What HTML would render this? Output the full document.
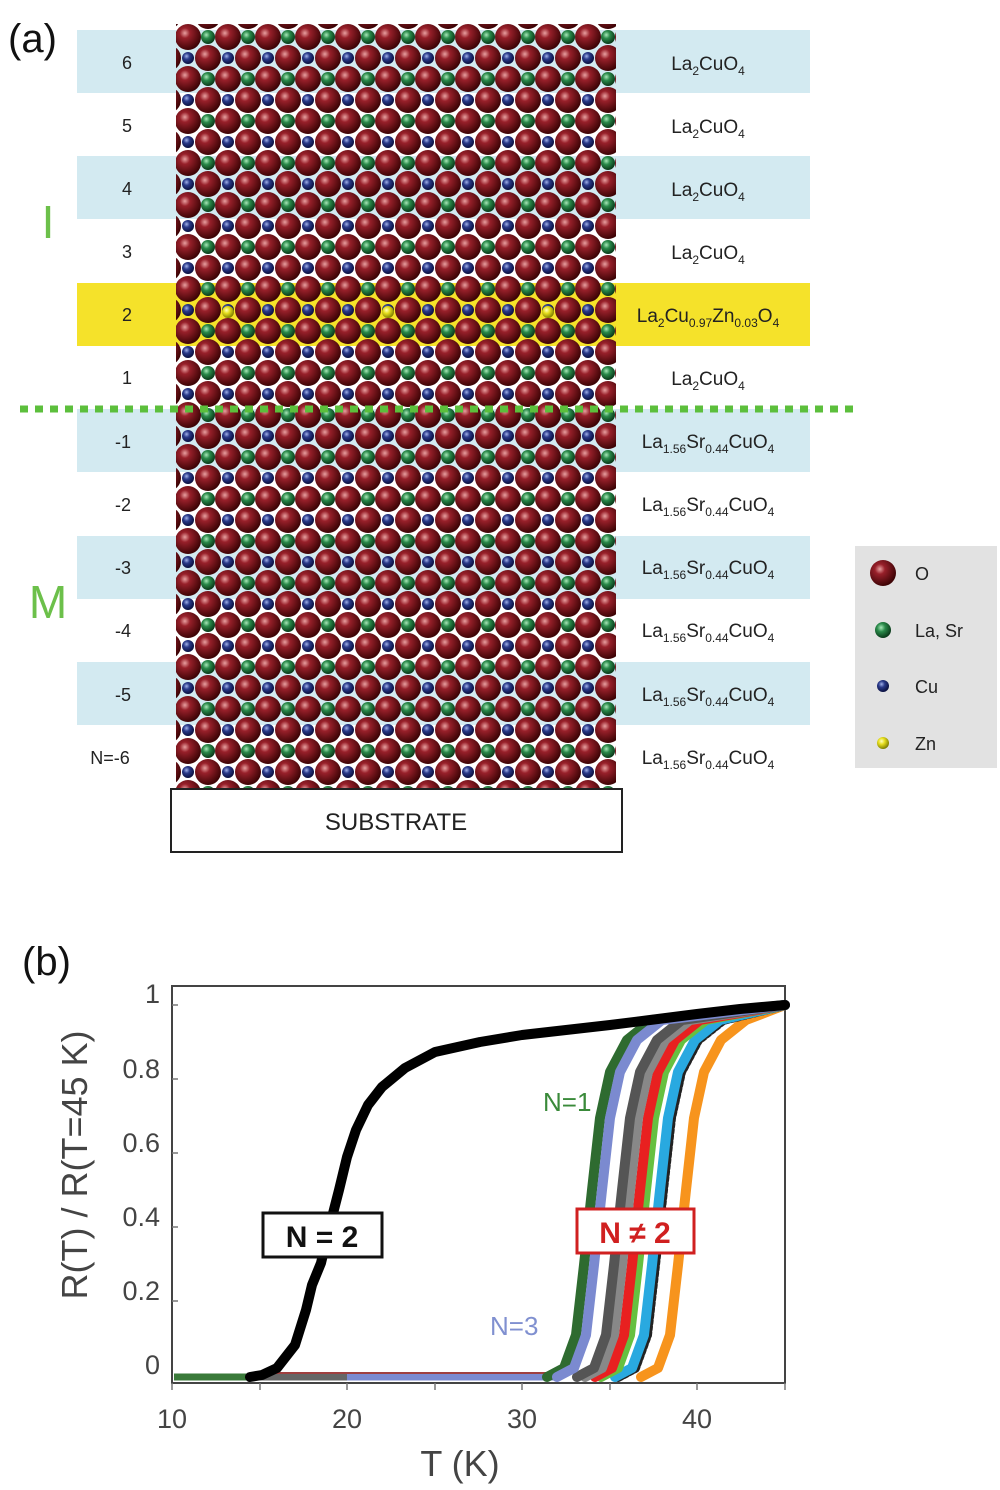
<!DOCTYPE html>
<html><head><meta charset="utf-8"><style>
html,body{margin:0;padding:0;background:#fff;}
svg{display:block;}
text{font-family:"Liberation Sans",sans-serif;}
</style></head><body>
<svg width="1000" height="1490" viewBox="0 0 1000 1490" xmlns="http://www.w3.org/2000/svg">
<defs>
<radialGradient id="gO" cx="0.38" cy="0.35" r="0.65"><stop offset="0" stop-color="#e8a0a0"/><stop offset="0.3" stop-color="#98202a"/><stop offset="1" stop-color="#3e0406"/></radialGradient>
<radialGradient id="gG" cx="0.38" cy="0.35" r="0.65"><stop offset="0" stop-color="#a8e8b8"/><stop offset="0.4" stop-color="#2a8a4a"/><stop offset="1" stop-color="#0a3a1a"/></radialGradient>
<radialGradient id="gB" cx="0.38" cy="0.35" r="0.65"><stop offset="0" stop-color="#a0b0e8"/><stop offset="0.4" stop-color="#2a3a8a"/><stop offset="1" stop-color="#0a1040"/></radialGradient>
<radialGradient id="gY" cx="0.38" cy="0.35" r="0.65"><stop offset="0" stop-color="#ffffc0"/><stop offset="0.4" stop-color="#e8e020"/><stop offset="1" stop-color="#808000"/></radialGradient>
<pattern id="lat" patternUnits="userSpaceOnUse" x="168" y="16" width="40" height="42">
<circle cx="0" cy="21" r="7" fill="url(#gG)"/><circle cx="40" cy="21" r="7" fill="url(#gG)"/>
<circle cx="20" cy="0" r="6" fill="url(#gB)"/><circle cx="20" cy="42" r="6" fill="url(#gB)"/>
<circle cx="20" cy="21" r="13" fill="url(#gO)"/>
<circle cx="0" cy="0" r="13" fill="url(#gO)"/><circle cx="40" cy="0" r="13" fill="url(#gO)"/>
<circle cx="0" cy="42" r="13" fill="url(#gO)"/><circle cx="40" cy="42" r="13" fill="url(#gO)"/>
</pattern>
</defs>
<g fill="#d3eaf1">
<rect x="77" y="30" width="733" height="63"/>
<rect x="77" y="156" width="733" height="63"/>
<rect x="77" y="409" width="733" height="63"/>
<rect x="77" y="536" width="733" height="63"/>
<rect x="77" y="662" width="733" height="63"/>
</g>
<rect x="77" y="283" width="733" height="63" fill="#f5e22a"/>
<text x="8" y="52" font-size="40" fill="#111">(a)</text>
<g font-size="18" fill="#222" text-anchor="middle">
<text x="127" y="69">6</text><text x="127" y="132">5</text><text x="127" y="195">4</text>
<text x="127" y="258">3</text><text x="127" y="321">2</text><text x="127" y="384">1</text>
<text x="123" y="448">-1</text><text x="123" y="511">-2</text><text x="123" y="574">-3</text>
<text x="123" y="637">-4</text><text x="123" y="701">-5</text><text x="110" y="764">N=-6</text>
</g>
<text x="48" y="238" font-size="46" fill="#6cc04a" text-anchor="middle">I</text>
<text x="48" y="618" font-size="46" fill="#6cc04a" text-anchor="middle">M</text>
<rect x="176" y="24" width="440" height="766" fill="url(#lat)"/>
<g fill="url(#gY)"><circle cx="228" cy="312" r="6"/><circle cx="388" cy="312" r="6"/><circle cx="548" cy="312" r="6"/></g>
<line x1="20" y1="409" x2="860" y2="409" stroke="#5cbf3c" stroke-width="7" stroke-dasharray="8,7"/>
<g font-size="19" fill="#222" text-anchor="middle">
<text x="708" y="70">La<tspan font-size="12" dy="5">2</tspan><tspan dy="-5">CuO</tspan><tspan font-size="12" dy="5">4</tspan></text>
<text x="708" y="133">La<tspan font-size="12" dy="5">2</tspan><tspan dy="-5">CuO</tspan><tspan font-size="12" dy="5">4</tspan></text>
<text x="708" y="196">La<tspan font-size="12" dy="5">2</tspan><tspan dy="-5">CuO</tspan><tspan font-size="12" dy="5">4</tspan></text>
<text x="708" y="259">La<tspan font-size="12" dy="5">2</tspan><tspan dy="-5">CuO</tspan><tspan font-size="12" dy="5">4</tspan></text>
<text x="708" y="322">La<tspan font-size="12" dy="5">2</tspan><tspan dy="-5">Cu</tspan><tspan font-size="12" dy="5">0.97</tspan><tspan dy="-5">Zn</tspan><tspan font-size="12" dy="5">0.03</tspan><tspan dy="-5">O</tspan><tspan font-size="12" dy="5">4</tspan></text>
<text x="708" y="385">La<tspan font-size="12" dy="5">2</tspan><tspan dy="-5">CuO</tspan><tspan font-size="12" dy="5">4</tspan></text>
<text x="708" y="448">La<tspan font-size="12" dy="5">1.56</tspan><tspan dy="-5">Sr</tspan><tspan font-size="12" dy="5">0.44</tspan><tspan dy="-5">CuO</tspan><tspan font-size="12" dy="5">4</tspan></text>
<text x="708" y="511">La<tspan font-size="12" dy="5">1.56</tspan><tspan dy="-5">Sr</tspan><tspan font-size="12" dy="5">0.44</tspan><tspan dy="-5">CuO</tspan><tspan font-size="12" dy="5">4</tspan></text>
<text x="708" y="574">La<tspan font-size="12" dy="5">1.56</tspan><tspan dy="-5">Sr</tspan><tspan font-size="12" dy="5">0.44</tspan><tspan dy="-5">CuO</tspan><tspan font-size="12" dy="5">4</tspan></text>
<text x="708" y="637">La<tspan font-size="12" dy="5">1.56</tspan><tspan dy="-5">Sr</tspan><tspan font-size="12" dy="5">0.44</tspan><tspan dy="-5">CuO</tspan><tspan font-size="12" dy="5">4</tspan></text>
<text x="708" y="701">La<tspan font-size="12" dy="5">1.56</tspan><tspan dy="-5">Sr</tspan><tspan font-size="12" dy="5">0.44</tspan><tspan dy="-5">CuO</tspan><tspan font-size="12" dy="5">4</tspan></text>
<text x="708" y="764">La<tspan font-size="12" dy="5">1.56</tspan><tspan dy="-5">Sr</tspan><tspan font-size="12" dy="5">0.44</tspan><tspan dy="-5">CuO</tspan><tspan font-size="12" dy="5">4</tspan></text>
</g>
<rect x="171" y="789" width="451" height="63" fill="#fff" stroke="#222" stroke-width="2"/>
<text x="396" y="830" font-size="24" fill="#222" text-anchor="middle">SUBSTRATE</text>
<rect x="855" y="546" width="142" height="222" fill="#e2e2e2"/>
<circle cx="883" cy="573" r="13" fill="url(#gO)"/>
<circle cx="883" cy="630" r="8" fill="url(#gG)"/>
<circle cx="883" cy="686" r="6" fill="url(#gB)"/>
<circle cx="883" cy="743" r="6" fill="url(#gY)"/>
<g font-size="18" fill="#222"><text x="915" y="580">O</text><text x="915" y="637">La, Sr</text><text x="915" y="693">Cu</text><text x="915" y="750">Zn</text></g>
<text x="22" y="975" font-size="40" fill="#111">(b)</text>
<rect x="172" y="986" width="613" height="397" fill="none" stroke="#444" stroke-width="2"/>
<g stroke="#777" stroke-width="1.5">
<line x1="172" y1="1005" x2="178" y2="1005"/><line x1="172" y1="1079" x2="178" y2="1079"/><line x1="172" y1="1153" x2="178" y2="1153"/>
<line x1="172" y1="1227" x2="178" y2="1227"/><line x1="172" y1="1301" x2="178" y2="1301"/>
<line x1="172" y1="1383" x2="172" y2="1390"/><line x1="347" y1="1383" x2="347" y2="1390"/><line x1="435" y1="1383" x2="435" y2="1390"/><line x1="522" y1="1383" x2="522" y2="1390"/><line x1="610" y1="1383" x2="610" y2="1390"/><line x1="697" y1="1383" x2="697" y2="1390"/><line x1="785" y1="1383" x2="785" y2="1390"/><line x1="260" y1="1383" x2="260" y2="1390"/>
</g>
<g font-size="27" fill="#444" text-anchor="end">
<text x="160" y="1003">1</text><text x="160" y="1078">0.8</text><text x="160" y="1152">0.6</text>
<text x="160" y="1226">0.4</text><text x="160" y="1300">0.2</text><text x="160" y="1374">0</text>
</g>
<g font-size="27" fill="#444" text-anchor="middle">
<text x="172" y="1428">10</text><text x="347" y="1428">20</text><text x="522" y="1428">30</text><text x="697" y="1428">40</text>
</g>
<text x="460" y="1476" font-size="36" fill="#444" text-anchor="middle">T (K)</text>
<text transform="translate(87,1165) rotate(-90)" font-size="36" fill="#444" text-anchor="middle">R(T) / R(T=45 K)</text>
<line x1="174" y1="1377" x2="260" y2="1377" stroke="#3a7a3a" stroke-width="7"/>
<line x1="260" y1="1377" x2="347" y2="1377" stroke="#666" stroke-width="7"/>
<line x1="347" y1="1377" x2="560" y2="1377" stroke="#7b8ad0" stroke-width="7"/>
<line x1="260" y1="1373" x2="560" y2="1373" stroke="#a04040" stroke-width="2"/>
<g fill="none" stroke-width="10" stroke-linejoin="round" stroke-linecap="round">
<polyline stroke="#f7941d" points="641,1377 658,1368 670,1335 678,1265 686,1190 694,1118 704,1072 721,1040 746,1020 785,1005"/>
<polyline stroke="#222" stroke-dasharray="3,3" points="618,1377 635,1368 647,1335 655,1265 663,1190 671,1118 681,1072 698,1040 723,1020 785,1005"/>
<polyline stroke="#29a9e0" points="615,1377 632,1368 644,1335 652,1265 660,1190 668,1118 678,1072 695,1040 720,1020 785,1005"/>
<polyline stroke="#66c040" points="601,1377 618,1368 630,1335 638,1265 646,1190 654,1118 664,1072 681,1040 706,1020 785,1005"/>
<polyline stroke="#e82020" points="595,1377 612,1368 624,1335 632,1265 640,1190 648,1118 658,1072 675,1040 700,1020 785,1005"/>
<polyline stroke="#888" points="585,1377 602,1368 614,1335 622,1265 630,1190 638,1118 648,1072 665,1040 690,1020 785,1005"/>
<polyline stroke="#555" points="577,1377 594,1368 606,1335 614,1265 622,1190 630,1118 640,1072 657,1040 682,1020 785,1005"/>
<polyline stroke="#2e6b30" points="547,1377 564,1368 576,1335 584,1265 592,1190 600,1118 610,1072 627,1040 652,1020 785,1005"/>
<polyline stroke="#7b8ad0" points="557,1377 574,1368 586,1335 594,1265 602,1190 610,1118 620,1072 637,1040 662,1020 785,1005"/>
<polyline stroke="#000" stroke-width="10" points="250,1377 262,1375 277,1368 295,1345 306,1310 312,1285 321,1263 330,1225 339,1190 347,1157 356,1130 368,1105 382,1087 405,1068 435,1052 480,1042 522,1035 566,1030 610,1025 650,1020 697,1014 740,1009 785,1005"/>
</g>
<rect x="263" y="1213" width="119" height="44" fill="#fff" stroke="#111" stroke-width="3"/>
<text x="322" y="1247" font-size="30" font-weight="bold" fill="#111" text-anchor="middle">N = 2</text>
<rect x="577" y="1209" width="117" height="44" fill="#fff" stroke="#d02020" stroke-width="3"/>
<text x="635" y="1243" font-size="30" font-weight="bold" fill="#d02020" text-anchor="middle">N ≠ 2</text>
<text x="543" y="1111" font-size="26" fill="#3a8a3a">N=1</text>
<text x="490" y="1335" font-size="26" fill="#8090d0">N=3</text>
</svg>
</body></html>
